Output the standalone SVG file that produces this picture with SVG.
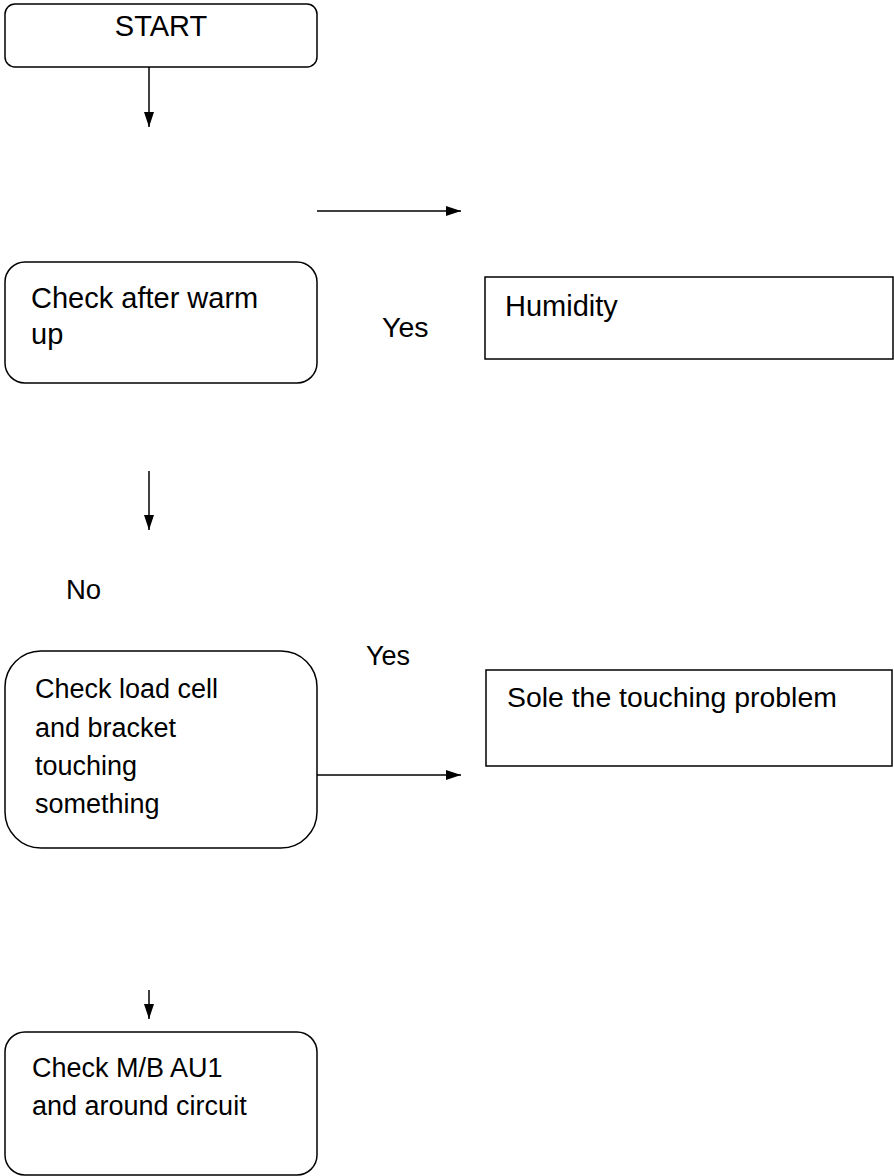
<svg xmlns="http://www.w3.org/2000/svg" width="894" height="1176" viewBox="0 0 894 1176">
<defs>
<marker id="ah" markerWidth="15" markerHeight="10" refX="15" refY="5" orient="auto" markerUnits="userSpaceOnUse">
<path d="M0,0 L15,5 L0,10 Z" fill="#000"/>
</marker>
<style>
.box{fill:#fff;stroke:#000;stroke-width:1.5}
.t{font-family:"Liberation Sans",Arial,sans-serif;font-size:29px;fill:#000}
.s{font-size:27px}
.c{stroke:#000;stroke-width:1.5;fill:none;marker-end:url(#ah)}
</style>
</defs>
<rect width="894" height="1176" fill="#fff"/>
<g id="start">
<rect class="box" x="5" y="4" width="312" height="63" rx="10"/>
<text class="t" x="161" y="36" text-anchor="middle">START</text>
</g>
<g id="warmup">
<rect class="box" x="5" y="262" width="312" height="121" rx="20"/>
<text class="t" x="31" y="308">Check after warm</text>
<text class="t" x="31" y="344">up</text>
</g>
<g id="humidity">
<rect class="box" x="485" y="277" width="408" height="82"/>
<text class="t" x="505" y="316">Humidity</text>
</g>
<g id="loadcell">
<rect class="box" x="5" y="651" width="312" height="197" rx="36"/>
<text class="t s" x="35" y="698">Check load cell</text>
<text class="t s" x="35" y="737">and bracket</text>
<text class="t s" x="35" y="775">touching</text>
<text class="t s" x="35" y="813">something</text>
</g>
<g id="sole">
<rect class="box" x="486" y="670" width="406" height="96"/>
<text class="t" x="507" y="707" style="font-size:28.4px">Sole the touching problem</text>
</g>
<g id="mb">
<rect class="box" x="5" y="1032" width="312" height="143" rx="20"/>
<text class="t s" x="32" y="1077">Check M/B AU1</text>
<text class="t s" x="32" y="1115">and around circuit</text>
</g>
<g id="connectors">
<line class="c" x1="149" y1="67" x2="149" y2="127"/>
<line class="c" x1="317" y1="211" x2="461" y2="211"/>
<line class="c" x1="149" y1="471" x2="149" y2="530"/>
<line class="c" x1="317" y1="775" x2="461" y2="775"/>
<line class="c" x1="149" y1="990" x2="149" y2="1019"/>
</g>
<g id="labels">
<text class="t" x="382" y="337" style="font-size:28.5px">Yes</text>
<text class="t" x="66" y="599" style="font-size:27.5px">No</text>
<text class="t s" x="366" y="665">Yes</text>
</g>
</svg>
